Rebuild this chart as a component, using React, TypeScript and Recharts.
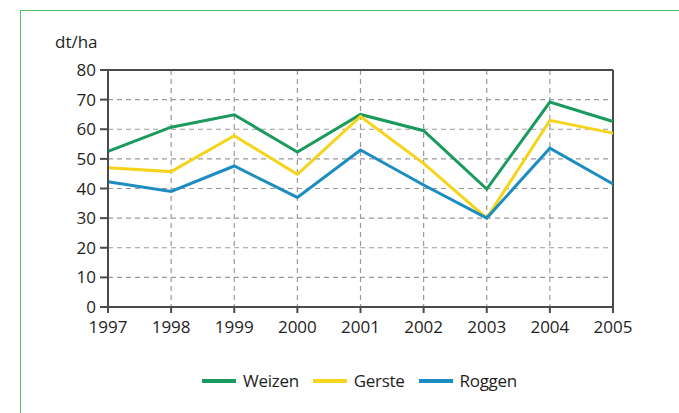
import { LineChart, Line, XAxis, YAxis, CartesianGrid, ReferenceLine } from 'recharts';

const years = ['1997', '1998', '1999', '2000', '2001', '2002', '2003', '2004', '2005'];
const weizen = [52.5, 60.7, 64.9, 52.3, 65, 59.5, 39.8, 69.2, 62.6];
const gerste = [47, 45.7, 57.8, 44.8, 64.3, 48.5, 30, 63, 58.7];
const roggen = [42.3, 39, 47.6, 37, 53, 41.2, 30, 53.6, 41.5];
const yTicks = [0, 10, 20, 30, 40, 50, 60, 70, 80];

const series = [
  { key: 'weizen', name: 'Weizen', color: '#1a9a5c' },
  { key: 'gerste', name: 'Gerste', color: '#f6d41c' },
  { key: 'roggen', name: 'Roggen', color: '#1b8dc2' },
];

const data = years.map((year, i) => ({
  year,
  weizen: weizen[i],
  gerste: gerste[i],
  roggen: roggen[i],
}));

const font = '"Open Sans", sans-serif';
const axisColor = '#4a4a4a';

export default function App() {
  return (
    <div style={{ position: 'absolute', left: 0, top: 0, width: 679, height: 413, background: '#fff', fontFamily: font }}>
      {/* green frame */}
      <div
        style={{
          position: 'absolute',
          left: 20,
          top: 10,
          width: 659,
          height: 403,
          borderTop: '1.5px solid #4cbf6a',
          borderLeft: '1.5px solid #4cbf6a',
        }}
      />
      <div style={{ position: 'absolute', left: 55, top: 30, fontSize: 17, color: '#1e1e1e' }}>dt/ha</div>

      <LineChart
        width={679}
        height={413}
        data={data}
        margin={{ top: 70, right: 66, bottom: 76, left: 40 }}
        style={{ position: 'absolute', left: 0, top: 0 }}
      >
        <CartesianGrid stroke="#9a9a9a" strokeDasharray="5 4" strokeWidth={1.2} />
        <XAxis
          dataKey="year"
          stroke={axisColor}
          strokeWidth={2}
          tickSize={6}
          height={30}
          tick={{ fill: '#1e1e1e', fontSize: 17, fontFamily: font }}
          tickMargin={8}
          interval={0}
        />
        <YAxis
          domain={[0, 80]}
          ticks={yTicks}
          width={68}
          stroke={axisColor}
          strokeWidth={2}
          tickSize={8}
          tickMargin={4}
          tick={{ fill: '#1e1e1e', fontSize: 17, fontFamily: font }}
        />
        <ReferenceLine y={80} stroke={axisColor} strokeWidth={2} />
        <ReferenceLine x="2005" stroke={axisColor} strokeWidth={2} />
        {series.map((s) => (
          <Line
            key={s.key}
            dataKey={s.key}
            name={s.name}
            stroke={s.color}
            strokeWidth={3}
            dot={false}
            type="linear"
            isAnimationActive={false}
          />
        ))}
      </LineChart>

      {/* legend */}
      <div
        style={{
          position: 'absolute',
          left: 0,
          top: 369,
          width: 719,
          display: 'flex',
          justifyContent: 'center',
          gap: 14,
          fontSize: 17,
          letterSpacing: -0.3,
          color: '#1e1e1e',
        }}
      >
        {series.map((s) => (
          <div key={s.key} style={{ display: 'flex', alignItems: 'center', gap: 7 }}>
            <div style={{ width: 34, height: 4, background: s.color }} />
            <span>{s.name}</span>
          </div>
        ))}
      </div>
    </div>
  );
}
